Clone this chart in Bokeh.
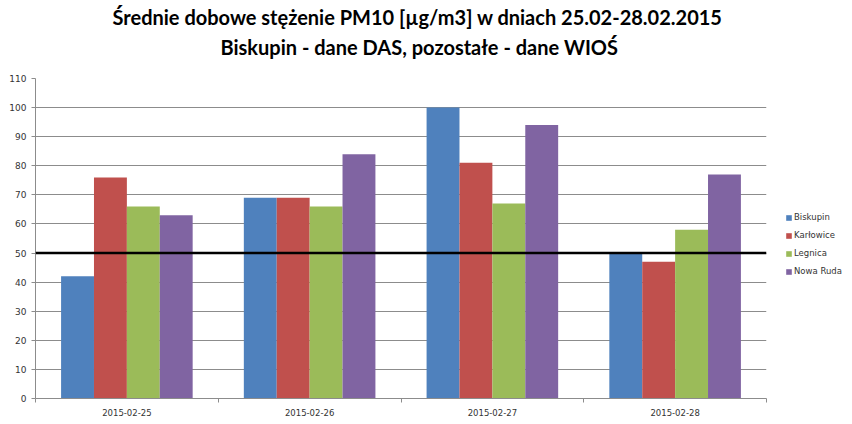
from bokeh.plotting import figure
from bokeh.models import (ColumnDataSource, Range1d, FixedTicker, Span, Legend,
                          LegendItem, Title)
from bokeh.transform import dodge
from bokeh.embed import file_html
from bokeh.resources import INLINE

dates = ["2015-02-25", "2015-02-26", "2015-02-27", "2015-02-28"]
biskupin = [42, 69, 100, 50]
karlowice = [76, 69, 81, 47]
legnica = [66, 66, 67, 58]
nowa_ruda = [63, 84, 94, 77]
series_names = ["Biskupin", "Karłowice", "Legnica", "Nowa Ruda"]
colors = ["#4F81BD", "#C0504D", "#9BBB59", "#8064A2"]
limit = 50
y_ticks = list(range(0, 111, 10))
title1 = "Średnie dobowe stężenie PM10 [µg/m3] w dniach 25.02-28.02.2015"
title2 = "Biskupin - dane DAS, pozostałe - dane WIOŚ"

centers = [i + 0.5 for i in range(len(dates))]
src = ColumnDataSource(dict(x=centers, b=biskupin, k=karlowice, l=legnica, n=nowa_ruda))

p = figure(frame_width=731, frame_height=320, output_backend="svg", toolbar_location=None,
           x_range=Range1d(0, len(dates)), y_range=Range1d(0, 110),
           min_border_left=35, min_border_top=78, min_border_right=86, min_border_bottom=10,
           background_fill_color="white", border_fill_color="white")
p.outline_line_color = None

# spacer between frame and the titles
p.add_layout(Title(text=" ", align="left", vertical_align="middle", text_font="Lato",
                   text_font_size="10px", standoff=4), "above")
p.add_layout(Title(text=title2, align="left", vertical_align="middle", text_font="Lato",
                   text_font_size="20px", text_font_style="bold", text_color="black",
                   standoff=2, offset=185), "above")
p.add_layout(Title(text=title1, align="left", vertical_align="middle", text_font="Lato",
                   text_font_size="20px", text_font_style="bold", text_color="black",
                   standoff=5, offset=77), "above")

offsets = [-0.27, -0.09, 0.09, 0.27]
cols = ["b", "k", "l", "n"]
renderers = []
for c, off, col in zip(cols, offsets, colors):
    r = p.vbar(x=dodge("x", off), top=c, width=0.18, bottom=0, source=src,
               fill_color=col, line_color=None)
    renderers.append(r)

p.add_layout(Span(location=limit, dimension="width", line_color="black", line_width=2.5))

# axes
p.xgrid.visible = False
p.ygrid.grid_line_color = "#8c8c8c"
p.ygrid.grid_line_width = 1
p.yaxis.ticker = FixedTicker(ticks=y_ticks)
p.yaxis.major_tick_out = 4
p.yaxis.major_tick_in = 0
p.yaxis.minor_tick_line_color = None
p.yaxis.major_label_standoff = 5
p.yaxis.axis_line_color = "#8c8c8c"
p.yaxis.major_tick_line_color = "#8c8c8c"
p.yaxis.major_label_text_font = "DejaVu Sans"
p.yaxis.major_label_text_font_size = "9px"
p.yaxis.major_label_text_color = "#333333"

p.xaxis.ticker = FixedTicker(ticks=centers, minor_ticks=list(range(len(dates) + 1)))
p.xaxis.major_label_overrides = {c: d for c, d in zip(centers, dates)}
p.xaxis.major_tick_out = 0
p.xaxis.major_tick_in = 0
p.xaxis.minor_tick_out = 4
p.xaxis.minor_tick_in = 0
p.xaxis.minor_tick_line_color = "#8c8c8c"
p.xaxis.axis_line_color = "#8c8c8c"
p.xaxis.major_label_standoff = 6
p.xaxis.major_label_text_font = "DejaVu Sans"
p.xaxis.major_label_text_font_size = "8.5px"
p.xaxis.major_label_text_color = "#333333"

legend = Legend(items=[LegendItem(label=n, renderers=[r]) for n, r in zip(series_names, renderers)],
                location=(19, 118), orientation="vertical", padding=0, margin=0, spacing=0,
                glyph_width=7, glyph_height=7, label_height=18, label_standoff=2,
                label_text_font="DejaVu Sans", label_text_font_size="8.5px",
                label_text_color="#333333", border_line_color=None, background_fill_alpha=0)
p.add_layout(legend, "right")

open("out.html", "w").write(file_html(p, INLINE))
